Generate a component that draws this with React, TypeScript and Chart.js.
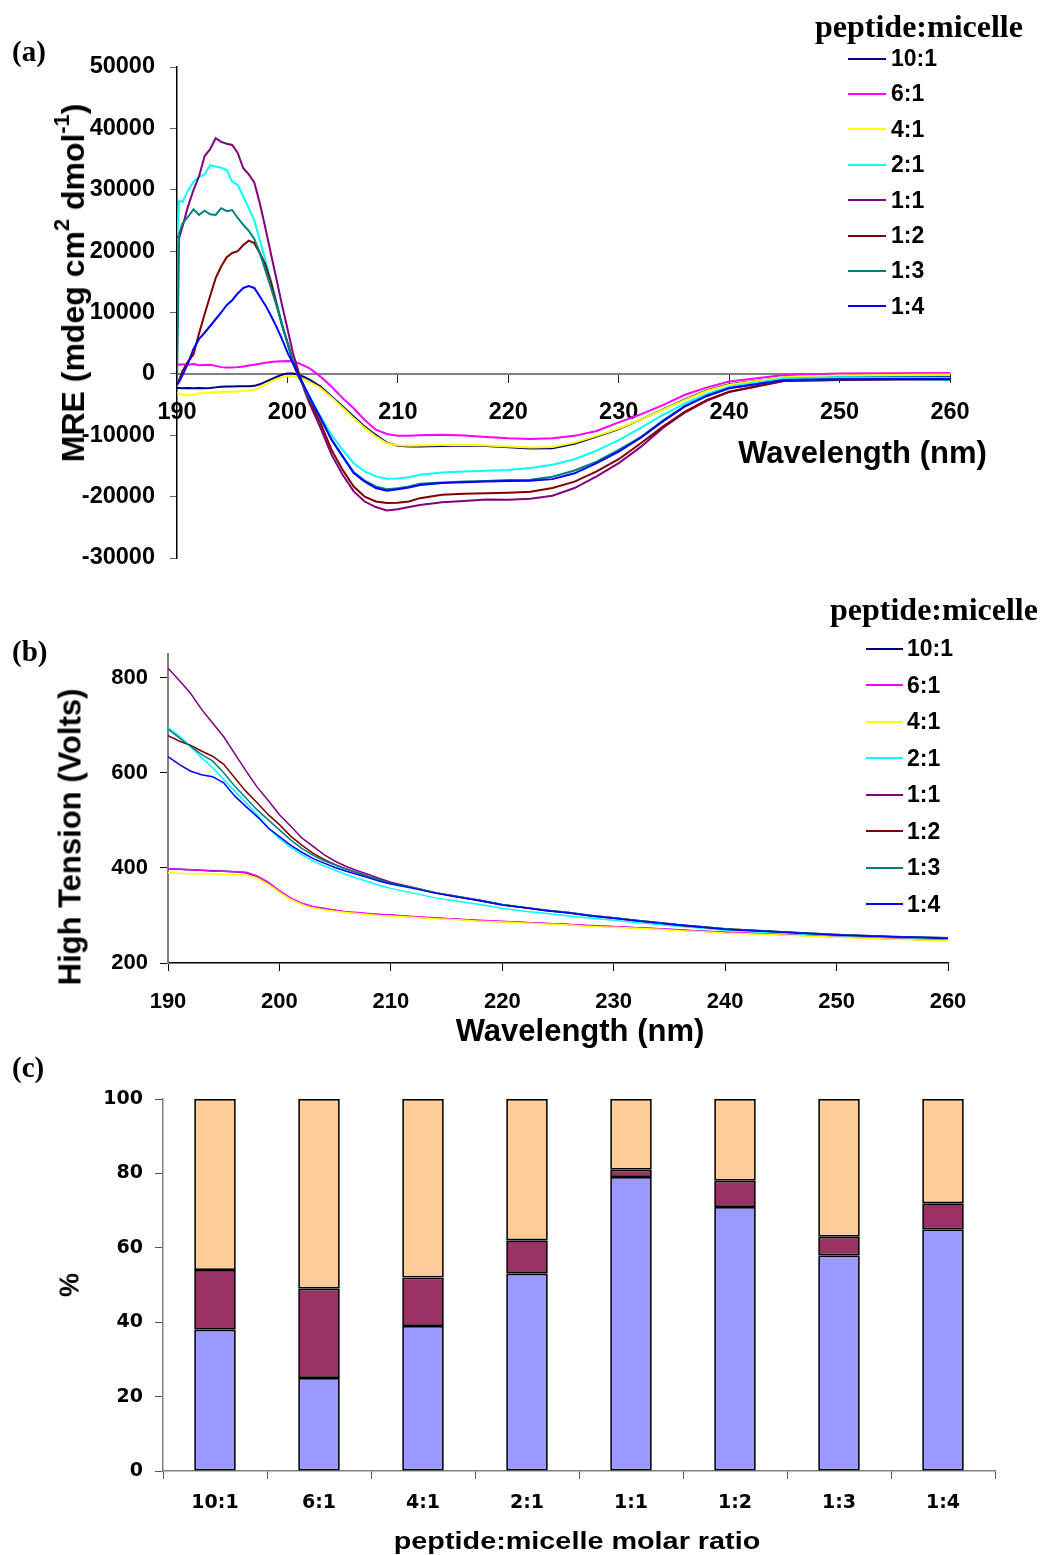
import React, { useEffect, useRef } from "react";
import { Chart, registerables } from "chart.js";

Chart.register(...registerables);

const SANS = '"Liberation Sans", Arial, Helvetica, sans-serif';
const SERIF = '"Liberation Serif", "Times New Roman", Times, serif';
const WIDE = '"DejaVu Sans", Verdana, sans-serif';

// peptide:micelle molar ratios shared by all panels
const RATIOS = ["10:1", "6:1", "4:1", "2:1", "1:1", "1:2", "1:3", "1:4"];
const RATIO_COLORS = ["#000080", "#FF00FF", "#FFFF00", "#00FFFF", "#800080", "#800000", "#008080", "#0000FF"];

// ---- (a) mean residue ellipticity, mdeg cm2 dmol-1 ----
const MRE_WAVELENGTH = [
  190, 190.2, 190.5, 191, 191.5, 192, 192.5, 193, 193.5, 194, 194.5, 195, 195.5, 196, 196.5, 197, 197.5,
  198, 198.5, 199, 199.5, 200, 200.5, 201, 201.5, 202, 202.5, 203, 204, 205, 206, 207, 208, 209, 210, 211,
  212, 214, 216, 218, 220, 222, 224, 226, 228, 230, 232, 234, 236, 238, 240, 245, 250, 255, 260,
];
const MRE_10_1 = [
  -2300, -2300, -2350, -2300, -2350, -2300, -2350, -2300, -2200, -2100, -2050, -2050, -2000, -2000, -2000, -1950, -1700,
  -1300, -900, -500, -150, 50, 50, -150, -500, -950, -1500, -2050, -3700, -5300, -6950, -8600, -9950, -11200, -11700, -11850,
  -11850, -11750, -11650, -11750, -11950, -12150, -12100, -11400, -10200, -9000, -7450, -5800, -4150, -2650, -1700, -600, -450, -450, -450,
];
const MRE_6_1 = [
  1500, 1500, 1550, 1500, 1600, 1400, 1450, 1500, 1300, 1100, 1050, 1050, 1100, 1200, 1350, 1500, 1650,
  1800, 1950, 2000, 2050, 2100, 2050, 1750, 1350, 900, 250, -450, -2100, -3950, -5600, -7500, -9100, -9800, -10100, -10100,
  -10000, -9900, -10050, -10300, -10500, -10600, -10500, -10100, -9300, -7900, -6600, -5100, -3400, -2200, -1250, -200, 50, 100, 150,
];
const MRE_4_1 = [
  -3200, -3250, -3400, -3500, -3400, -3200, -3100, -3050, -3000, -2950, -2900, -2900, -2850, -2800, -2700, -2600, -2250,
  -1800, -1300, -850, -550, -350, -400, -600, -900, -1350, -1800, -2300, -3850, -5500, -7200, -8800, -10200, -11300, -11650, -11700,
  -11650, -11600, -11550, -11650, -11850, -12000, -11900, -11200, -10100, -8900, -7450, -5850, -4250, -2750, -1750, -550, -250, -180, -120,
];
const MRE_2_1 = [
  22000, 28200, 28000, 29900, 31300, 32100, 32500, 34000, 33800, 33600, 33200, 31300, 30800, 28900, 27000, 25000, 21800,
  18500, 15300, 11800, 8300, 5000, 2500, 200, -2000, -3700, -5300, -6950, -9950, -12400, -14550, -15900, -16700, -17100, -17050, -16850,
  -16450, -16050, -15900, -15800, -15650, -15350, -14800, -13900, -12500, -10800, -8800, -6700, -4800, -3250, -2150, -700, -550, -600, -650,
];
const MRE_1_1 = [
  22400, 22200, 24000, 27300, 30000, 32200, 35500, 36600, 38400, 37800, 37500, 37300, 36000, 33500, 32500, 31200, 27800,
  23800, 19600, 15500, 11300, 7400, 3400, 400, -2500, -4800, -6800, -8850, -13200, -16450, -19150, -20800, -21700, -22250, -22050, -21700,
  -21350, -20900, -20700, -20450, -20500, -20350, -19850, -18600, -16700, -14550, -11900, -8800, -6300, -4350, -2950, -1150, -980, -900, -870,
];
const MRE_1_2 = [
  -1500, -1000, 500, 2000, 3200, 6600, 9700, 12700, 15600, 17500, 19000, 19700, 20000, 21000, 21700, 21300, 19700,
  17800, 15000, 11500, 8000, 5200, 2000, 0, -2000, -4250, -6200, -8050, -12400, -15650, -18350, -20000, -20800, -21050, -21000, -20800,
  -20250, -19700, -19550, -19450, -19350, -19200, -18600, -17550, -15900, -13900, -11300, -8600, -6150, -4250, -2900, -1100, -980, -880, -820,
];
const MRE_1_3 = [
  -1500, 22900, 24500, 25600, 26800, 25900, 26600, 26000, 25900, 27000, 26500, 26700, 25400, 24300, 23300, 22000, 19700,
  16900, 14100, 11200, 8000, 5000, 1800, -500, -2200, -4000, -5600, -7200, -10750, -13450, -16000, -17400, -18350, -18800, -18650, -18350,
  -17900, -17700, -17550, -17450, -17300, -17250, -16750, -15750, -14300, -12400, -10300, -7600, -5200, -3500, -2300, -980, -880, -880, -950,
];
const MRE_1_4 = [
  -1800, -1300, -200, 1700, 4100, 5700, 6700, 7800, 8900, 10000, 11200, 12000, 13100, 14000, 14300, 14000, 12600,
  11200, 9500, 7700, 5700, 3500, 1700, -200, -2000, -3700, -5500, -7200, -10750, -13450, -16150, -17550, -18600, -19050, -18800, -18500,
  -18100, -17800, -17650, -17550, -17450, -17400, -17150, -16200, -14550, -12650, -10400, -7750, -5300, -3600, -2350, -980, -870, -820, -820,
];
const MRE_SERIES = [MRE_10_1, MRE_6_1, MRE_4_1, MRE_2_1, MRE_1_1, MRE_1_2, MRE_1_3, MRE_1_4];

// ---- (b) photomultiplier high tension, volts ----
const HT_WAVELENGTH = [
  190, 191, 192, 193, 194, 195, 196, 197, 198, 199, 200, 201, 202, 203, 204, 205, 206, 207, 208, 209, 210,
  212, 214, 216, 218, 220, 222, 224, 226, 228, 230, 232, 234, 236, 238, 240, 245, 250, 255, 260,
];
const HT_10_1 = [
  398, 397, 396, 395, 394, 393, 392, 390, 382, 369, 351, 336, 325, 318, 314, 311, 307, 305, 303, 302, 301,
  297, 294, 292, 289, 287, 285, 283, 281, 278, 276, 274, 272, 269, 267, 264, 260, 255, 251, 248,
];
const HT_6_1 = [
  398, 397, 396, 395, 393, 393, 392, 391, 383, 370, 352, 337, 326, 319, 315, 311, 308, 306, 304, 302, 301,
  298, 295, 292, 290, 288, 285, 283, 281, 279, 277, 274, 272, 270, 267, 265, 260, 255, 251, 248,
];
const HT_4_1 = [
  390, 389, 388, 387, 387, 386, 386, 385, 379, 366, 349, 334, 323, 316, 312, 309, 306, 304, 302, 300, 299,
  296, 293, 291, 288, 286, 284, 282, 280, 277, 275, 273, 271, 268, 266, 263, 259, 254, 250, 247,
];
const HT_2_1 = [
  695, 678, 656, 632, 611, 586, 561, 537, 512, 484, 462, 443, 428, 415, 404, 395, 386, 378, 371, 363, 357,
  347, 337, 330, 323, 315, 309, 304, 299, 294, 290, 285, 281, 277, 273, 269, 263, 258, 254, 251,
];
const HT_1_1 = [
  820, 795, 768, 734, 705, 676, 640, 604, 570, 542, 512, 488, 463, 446, 428, 414, 403, 394, 386, 378, 370,
  359, 348, 340, 332, 323, 317, 311, 306, 300, 295, 290, 285, 280, 276, 272, 266, 260, 256, 253,
];
const HT_1_2 = [
  678, 667, 658, 646, 635, 618, 589, 561, 537, 512, 491, 467, 448, 431, 418, 407, 398, 390, 382, 375, 368,
  358, 347, 339, 331, 322, 316, 310, 305, 299, 294, 289, 284, 279, 275, 271, 265, 259, 255, 252,
];
const HT_1_3 = [
  692, 674, 656, 639, 625, 600, 572, 547, 522, 501, 480, 459, 441, 427, 415, 406, 397, 390, 382, 375, 368,
  359, 348, 340, 332, 323, 317, 311, 306, 300, 295, 290, 285, 280, 276, 272, 266, 260, 256, 253,
];
const HT_1_4 = [
  634, 618, 604, 596, 592, 579, 551, 529, 508, 484, 466, 448, 433, 420, 410, 401, 393, 386, 379, 372, 366,
  357, 347, 339, 331, 322, 316, 310, 305, 299, 294, 289, 284, 280, 275, 271, 265, 259, 255, 252,
];
const HT_SERIES = [HT_10_1, HT_6_1, HT_4_1, HT_2_1, HT_1_1, HT_1_2, HT_1_3, HT_1_4];

// ---- (c) fractions of each structural class, % ----
const FRACTION_LOWER = [38, 25, 39, 53, 79, 71, 58, 65];
const FRACTION_MIDDLE = [16, 24, 13, 9, 2, 7, 5, 7];
const FRACTION_UPPER = [46, 51, 48, 38, 19, 22, 37, 28];
const FRACTION_COLORS = ["#9999FF", "#993366", "#FFCC99"];

// axis ranges and tick steps
const MRE_AXIS = { min: -30000, max: 50000, step: 10000 };
const HT_AXIS = { min: 200, max: 850, step: 200 };
const WL_AXIS = { min: 190, max: 260, step: 10 };
const PCT_AXIS = { min: 0, max: 100, step: 20 };

function pinScale(width?: number, height?: number) {
  return (scale: any) => {
    if (width !== undefined) scale.width = width;
    if (height !== undefined) scale.height = height;
    scale.paddingLeft = 0;
    scale.paddingRight = 0;
    scale.paddingTop = 0;
    scale.paddingBottom = 0;
  };
}

function lineSets(xs: number[], series: number[][], width: number) {
  return series.map((ys, i) => ({
    label: RATIOS[i],
    data: xs.map((x, j) => ({ x, y: ys[j] })),
    borderColor: RATIO_COLORS[i],
    backgroundColor: RATIO_COLORS[i],
    borderWidth: width,
    pointRadius: 0,
    fill: false,
    tension: 0,
    order: series.length - i,
  }));
}

const fontA = { family: SANS, size: 23.5, weight: "bold" as const };
const fontB = { family: SANS, size: 22, weight: "bold" as const };
const plain = (v: any) => String(v);
const common = {
  animation: false as const,
  responsive: false,
  maintainAspectRatio: false,
  events: [] as any[],
  plugins: { legend: { display: false }, tooltip: { enabled: false } },
};

function RatioLegend(props: { titleLeft: number; titleTop: number; rowY: number; rowGap: number; lineLeft: number; lineW: number; lineH: number; labelLeft: number }) {
  const { titleLeft, titleTop, rowY, rowGap, lineLeft, lineW, lineH, labelLeft } = props;
  return (
    <>
      <div style={{ position: "absolute", left: titleLeft, top: titleTop, font: `bold 32px ${SERIF}`, lineHeight: "32px", whiteSpace: "nowrap" }}>
        peptide:micelle
      </div>
      {RATIOS.map((r, i) => {
        const y = rowY + i * rowGap;
        return (
          <React.Fragment key={r}>
            <div style={{ position: "absolute", left: lineLeft, top: Math.round(y - lineH / 2), width: lineW, height: lineH, background: RATIO_COLORS[i] }} />
            <div style={{ position: "absolute", left: labelLeft, top: y - 11.5, font: `bold 23px ${SANS}`, lineHeight: "23px", whiteSpace: "nowrap" }}>{r}</div>
          </React.Fragment>
        );
      })}
    </>
  );
}

const rotated = (cx: number, cy: number, size: number, family: string): React.CSSProperties => ({
  position: "absolute",
  left: cx,
  top: cy,
  transform: "translate(-50%, -50%) rotate(-90deg)",
  font: `bold ${size}px ${family}`,
  lineHeight: `${size}px`,
  whiteSpace: "nowrap",
});

const sup: React.CSSProperties = { fontSize: "0.68em", position: "relative", top: "-0.7em" };

export default function App() {
  const refA = useRef<HTMLCanvasElement>(null);
  const refB = useRef<HTMLCanvasElement>(null);
  const refC = useRef<HTMLCanvasElement>(null);

  useEffect(() => {
    const charts: Chart[] = [];

    // (a) ellipticity spectra, x axis crossing at zero
    charts.push(
      new Chart(refA.current!, {
        type: "line",
        data: { datasets: lineSets(MRE_WAVELENGTH, MRE_SERIES, 2) as any },
        options: {
          ...common,
          layout: { padding: { left: 77, right: 90, top: 67, bottom: 32 } },
          scales: {
            x: {
              type: "linear",
              axis: "x",
              min: WL_AXIS.min,
              max: WL_AXIS.max,
              position: { y: 0 } as any,
              ticks: { stepSize: WL_AXIS.step, font: fontA, color: "#000", padding: 17, maxRotation: 0, callback: plain },
              grid: { drawOnChartArea: false, drawTicks: true, tickLength: 8, tickColor: "#222", tickWidth: 1 },
              border: { display: true, color: "#808080", width: 2 },
              afterFit: pinScale(),
            },
            y: {
              type: "linear",
              min: MRE_AXIS.min,
              max: MRE_AXIS.max,
              ticks: { stepSize: MRE_AXIS.step, font: fontA, color: "#000", padding: 15, callback: plain },
              grid: { drawOnChartArea: false, drawTicks: true, tickLength: 7, tickColor: "#666", tickWidth: 1 },
              border: { display: true, color: "#000", width: 1.5 },
              afterFit: pinScale(100),
            },
          },
        } as any,
      })
    );

    // (b) high tension voltage
    charts.push(
      new Chart(refB.current!, {
        type: "line",
        data: { datasets: lineSets(HT_WAVELENGTH, HT_SERIES, 1.5) as any },
        options: {
          ...common,
          layout: { padding: { left: 88, right: 92, top: 64, bottom: 37 } },
          scales: {
            x: {
              type: "linear",
              min: WL_AXIS.min,
              max: WL_AXIS.max,
              ticks: { stepSize: WL_AXIS.step, font: fontB, color: "#000", padding: 18, maxRotation: 0, callback: plain },
              grid: { drawOnChartArea: false, drawTicks: true, tickLength: 8, tickColor: "#000", tickWidth: 1 },
              border: { display: true, color: "#000", width: 1.5 },
              afterFit: pinScale(undefined, 60),
            },
            y: {
              type: "linear",
              min: HT_AXIS.min,
              max: HT_AXIS.max,
              ticks: { stepSize: HT_AXIS.step, includeBounds: false, font: fontB, color: "#000", padding: 12, callback: plain },
              grid: { drawOnChartArea: false, drawTicks: true, tickLength: 8, tickColor: "#000", tickWidth: 1 },
              border: { display: true, color: "#808080", width: 2 },
              afterFit: pinScale(80),
            },
          },
        } as any,
      })
    );

    // (c) stacked composition bars
    const barBase = { borderColor: "#000", borderWidth: 1.75, borderSkipped: false, barPercentage: 0.4, categoryPercentage: 1 };
    const wideFont = { family: WIDE, size: 19, weight: "bold" as const };
    charts.push(
      new Chart(refC.current!, {
        type: "bar",
        data: {
          labels: RATIOS,
          datasets: [
            { label: "lower", data: FRACTION_LOWER, backgroundColor: FRACTION_COLORS[0], ...barBase },
            { label: "middle", data: FRACTION_MIDDLE, backgroundColor: FRACTION_COLORS[1], ...barBase },
            { label: "upper", data: FRACTION_UPPER, backgroundColor: FRACTION_COLORS[2], ...barBase },
          ] as any,
        },
        options: {
          ...common,
          layout: { padding: { left: 83, right: 45, top: 39, bottom: 24 } },
          scales: {
            x: {
              stacked: true,
              ticks: { font: wideFont, color: "#000", padding: 13, maxRotation: 0, autoSkip: false },
              grid: { offset: true, drawOnChartArea: false, drawTicks: true, tickLength: 8, tickColor: "#555", tickWidth: 1 },
              border: { display: true, color: "#808080", width: 1.5 },
              afterFit: pinScale(undefined, 60),
            },
            y: {
              stacked: true,
              min: PCT_AXIS.min,
              max: PCT_AXIS.max,
              ticks: { stepSize: PCT_AXIS.step, font: wideFont, color: "#000", padding: 12, callback: plain },
              grid: { drawOnChartArea: false, drawTicks: true, tickLength: 8, tickColor: "#555", tickWidth: 1 },
              border: { display: true, color: "#808080", width: 1.5 },
              afterFit: pinScale(80),
            },
          },
        } as any,
      })
    );

    return () => charts.forEach((c) => c.destroy());
  }, []);

  const panelLabel = (text: string, top: number) => (
    <div style={{ position: "absolute", left: 12, top, font: `bold 29px ${SERIF}`, lineHeight: "29px" }}>{text}</div>
  );

  return (
    <div style={{ position: "absolute", left: 0, top: 0, width: 1040, height: 1555, background: "#fff", overflow: "hidden", color: "#000" }}>
      <canvas ref={refA} width={1040} height={590} style={{ position: "absolute", left: 0, top: 0, width: 1040, height: 590 }} />
      <canvas ref={refB} width={1040} height={470} style={{ position: "absolute", left: 0, top: 590, width: 1040, height: 470 }} />
      <canvas ref={refC} width={1040} height={495} style={{ position: "absolute", left: 0, top: 1060, width: 1040, height: 495 }} />

      {panelLabel("(a)", 37)}
      {panelLabel("(b)", 637)}
      {panelLabel("(c)", 1053)}

      <div style={rotated(74.5, 282.5, 32, SANS)}>
        MRE (mdeg cm<span style={sup}>2</span> dmol<span style={sup}>-1</span>)
      </div>
      <div style={{ position: "absolute", left: 862.5, top: 437, transform: "translateX(-50%)", font: `bold 31px ${SANS}`, lineHeight: "31px", whiteSpace: "nowrap" }}>
        Wavelength (nm)
      </div>
      <RatioLegend titleLeft={815} titleTop={10} rowY={58.5} rowGap={35.4} lineLeft={848} lineW={38} lineH={2} labelLeft={891} />

      <div style={rotated(70.3, 836.5, 31, SANS)}>High Tension (Volts)</div>
      <div style={{ position: "absolute", left: 580, top: 1015, transform: "translateX(-50%)", font: `bold 31px ${SANS}`, lineHeight: "31px", whiteSpace: "nowrap" }}>
        Wavelength (nm)
      </div>
      <RatioLegend titleLeft={830} titleTop={593} rowY={648.7} rowGap={36.5} lineLeft={866} lineW={37} lineH={2} labelLeft={907} />

      <div style={rotated(69.6, 1285, 27, SANS)}>%</div>
      <div style={{ position: "absolute", left: 576.5, top: 1529, transform: "translateX(-50%) scaleX(1.2)", font: `bold 24px ${SANS}`, lineHeight: "24px", whiteSpace: "nowrap" }}>
        peptide:micelle molar ratio
      </div>
    </div>
  );
}
